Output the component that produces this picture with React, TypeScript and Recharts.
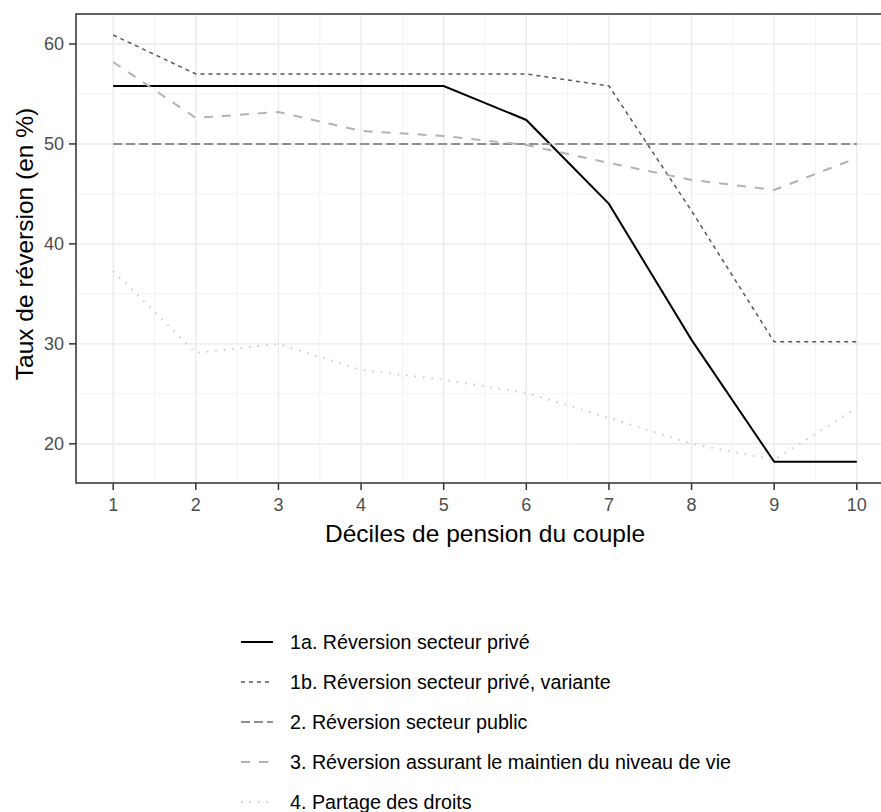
import { LineChart, Line, XAxis, YAxis, CartesianGrid, ReferenceArea } from 'recharts';

const deciles = [1, 2, 3, 4, 5, 6, 7, 8, 9, 10];
const reversionPrive = [55.8, 55.8, 55.8, 55.8, 55.8, 52.4, 44.0, 30.4, 18.2, 18.2];
const reversionPriveVariante = [60.9, 57.0, 57.0, 57.0, 57.0, 57.0, 55.8, 43.3, 30.2, 30.2];
const reversionPublic = [50, 50, 50, 50, 50, 50, 50, 50, 50, 50];
const maintienNiveauVie = [58.2, 52.6, 53.2, 51.3, 50.8, 49.9, 48.1, 46.4, 45.4, 48.6];
const partageDroits = [37.3, 29.1, 30.0, 27.4, 26.4, 25.1, 22.6, 20.0, 18.4, 23.6];

const yTicks = [20, 30, 40, 50, 60];
const yMinor = [25, 35, 45, 55];
const xMinor = [1.5, 2.5, 3.5, 4.5, 5.5, 6.5, 7.5, 8.5, 9.5];

const series = [
  { key: 'a', name: '1a. Réversion secteur privé', color: '#000000', width: 2, dash: undefined as string | undefined },
  { key: 'b', name: '1b. Réversion secteur privé, variante', color: '#595959', width: 1.5, dash: '4 4' },
  { key: 'c', name: '2. Réversion secteur public', color: '#8F8F8F', width: 2, dash: '9 4' },
  { key: 'd', name: '3. Réversion assurant le maintien du niveau de vie', color: '#B3B3B3', width: 2, dash: '9 9' },
  { key: 'e', name: '4. Partage des droits', color: '#CCCCCC', width: 2, dash: '1.5 7' },
];

const data = deciles.map((d, i) => ({
  decile: d,
  a: reversionPrive[i],
  b: reversionPriveVariante[i],
  c: reversionPublic[i],
  d: maintienNiveauVie[i],
  e: partageDroits[i],
}));

const font = '"Liberation Sans", Arial, sans-serif';

export default function App() {
  return (
    <div
      style={{
        position: 'absolute',
        left: 0,
        top: 0,
        width: 881,
        height: 812,
        overflow: 'hidden',
        background: '#fff',
        fontFamily: font,
      }}
    >
      <LineChart width={900} height={520} data={data} margin={{ top: 14, right: 6, bottom: 0, left: 0 }}>
        {/* minor grid */}
        <CartesianGrid
          stroke="#F3F3F3"
          strokeWidth={1}
          horizontalValues={yMinor}
          verticalValues={xMinor}
        />
        {/* major grid */}
        <CartesianGrid stroke="#EBEBEB" strokeWidth={1.4} />
        <XAxis
          dataKey="decile"
          type="number"
          domain={[0.55, 10.45]}
          ticks={deciles}
          allowDataOverflow
          height={37}
          axisLine={false}
          tickSize={7}
          tickMargin={8}
          tickLine={{ stroke: '#333333', strokeWidth: 1.5 }}
          tick={{ fill: '#4D4D4D', fontSize: 18, fontFamily: font }}
        />
        <YAxis
          type="number"
          domain={[16.08, 63.0]}
          ticks={yTicks}
          allowDataOverflow
          width={76}
          axisLine={false}
          tickSize={7}
          tickMargin={5}
          tickLine={{ stroke: '#333333', strokeWidth: 1.5 }}
          tick={{ fill: '#4D4D4D', fontSize: 18, fontFamily: font }}
        />
        {series.map((s) => (
          <Line
            key={s.key}
            dataKey={s.key}
            name={s.name}
            type="linear"
            stroke={s.color}
            strokeWidth={s.width}
            strokeDasharray={s.dash}
            dot={false}
            activeDot={false}
            isAnimationActive={false}
          />
        ))}
        <ReferenceArea
          x1={0.55}
          x2={10.45}
          y1={16.08}
          y2={63.0}
          fill="none"
          fillOpacity={0}
          stroke="#333333"
          strokeWidth={1.5}
          ifOverflow="visible"
        />
      </LineChart>

      <div
        style={{
          position: 'absolute',
          left: 0,
          top: 520,
          width: 970,
          textAlign: 'center',
          fontSize: 24.5,
          lineHeight: '27px',
          color: '#000',
        }}
      >
        Déciles de pension du couple
      </div>

      <div
        style={{
          position: 'absolute',
          left: 25 - 200,
          top: 244 - 14,
          width: 400,
          height: 28,
          lineHeight: '28px',
          textAlign: 'center',
          fontSize: 24.5,
          color: '#000',
          transform: 'rotate(-90deg)',
          transformOrigin: 'center center',
        }}
      >
        Taux de réversion (en %)
      </div>

      {series.map((s, i) => {
        const cy = 642 + 40 * i;
        return (
          <div key={s.key}>
            <svg
              style={{ position: 'absolute', left: 240, top: cy - 5 }}
              width={34}
              height={10}
            >
              <line
                x1={1}
                x2={33}
                y1={5}
                y2={5}
                stroke={s.color}
                strokeWidth={s.width}
                strokeDasharray={s.dash}
              />
            </svg>
            <div
              style={{
                position: 'absolute',
                left: 290,
                top: cy - 11.5,
                fontSize: 19.7,
                lineHeight: '23px',
                color: '#000',
                whiteSpace: 'nowrap',
              }}
            >
              {s.name}
            </div>
          </div>
        );
      })}
    </div>
  );
}
